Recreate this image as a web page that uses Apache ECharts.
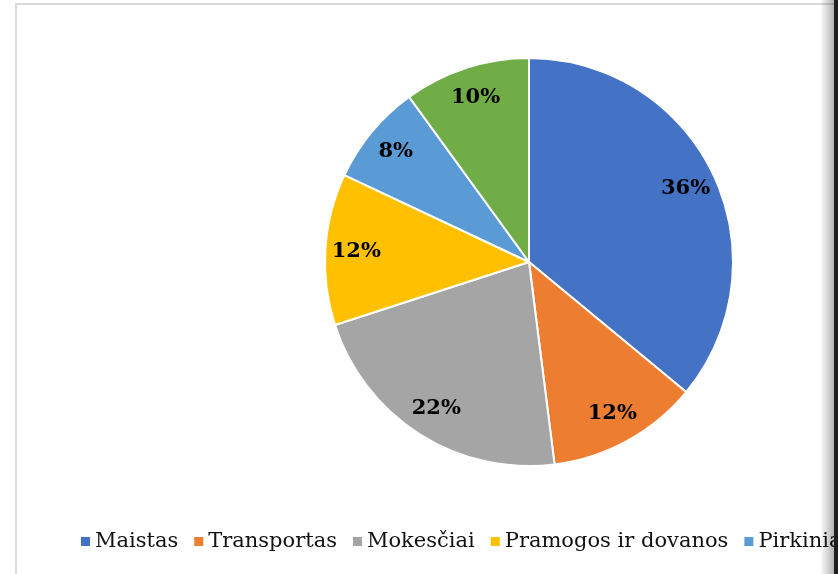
<!DOCTYPE html>
<html>
<head>
<meta charset="utf-8">
<title>Išlaidos</title>
<script src="https://cdn.jsdelivr.net/npm/echarts@6/dist/echarts.min.js"></script>
<style>
  html, body { margin: 0; padding: 0; background: #fff; }
  #chart { width: 838px; height: 574px; }
</style>
</head>
<body>
<div id="chart"></div>
<script>
// kategorijos ir jų dalys (%)
const categories = ['Maistas', 'Transportas', 'Mokesčiai', 'Pramogos ir dovanos', 'Pirkiniai', 'Kita'];
const shares = [36, 12, 22, 12, 8, 10];
const colors = ['#4472C4', '#ED7D31', '#A5A5A5', '#FFC000', '#5B9BD5', '#70AD47'];

const serif = '"DejaVu Serif", "Liberation Serif", serif';
const center = [529, 262];
const outerR = 204;

function pieData() {
  return categories.map((name, i) => ({ name: name, value: shares[i] }));
}

const option = {
  animation: false,
  color: colors,
  legend: {
    left: 81,
    top: 531,
    padding: 0,
    width: 2000,          // kad neperkeltų į kitą eilutę
    icon: 'rect',
    itemWidth: 9,
    itemHeight: 9,
    itemGap: 16,
    itemStyle: { borderWidth: 0 },
    textStyle: { fontFamily: serif, fontSize: 21, color: '#111' }
  },
  // rėmelis ir tamsus kraštas dešinėje (kaip ekrano nuotraukoje)
  graphic: [
    {
      type: 'rect', z: 0, silent: true,
      shape: { x: 16, y: 4, width: 900, height: 700 },
      style: { fill: 'none', stroke: '#dadada', lineWidth: 2 }
    },
    {
      type: 'rect', z: 100, silent: true,
      shape: { x: 820, y: 0, width: 14, height: 574 },
      style: {
        fill: new echarts.graphic.LinearGradient(0, 0, 1, 0, [
          { offset: 0, color: 'rgba(0,0,0,0)' },
          { offset: 1, color: 'rgba(0,0,0,0.3)' }
        ])
      }
    },
    {
      type: 'rect', z: 100, silent: true,
      shape: { x: 834, y: 0, width: 4, height: 574 },
      style: { fill: '#1e1e1e' }
    }
  ],
  series: [
    {
      // pats skritulys
      type: 'pie',
      center: center,
      radius: outerR,
      startAngle: 90,
      clockwise: true,
      silent: true,
      label: { show: false },
      labelLine: { show: false },
      itemStyle: { borderColor: '#fff', borderWidth: 2 },
      data: pieData()
    },
    {
      // tik procentų užrašai, arčiau krašto
      type: 'pie',
      center: center,
      radius: [136, outerR],
      startAngle: 90,
      clockwise: true,
      silent: true,
      itemStyle: { color: 'transparent' },
      label: {
        show: true,
        position: 'inside',
        formatter: p => Math.round(p.percent) + '%',
        fontFamily: serif,
        fontWeight: 'bold',
        fontSize: 21,
        color: '#000'
      },
      labelLine: { show: false },
      data: pieData()
    }
  ]
};

const myChart = echarts.init(document.getElementById('chart'));
myChart.setOption(option);
window.addEventListener('resize', function () {
  myChart.resize();
});
</script>
</body>
</html>
